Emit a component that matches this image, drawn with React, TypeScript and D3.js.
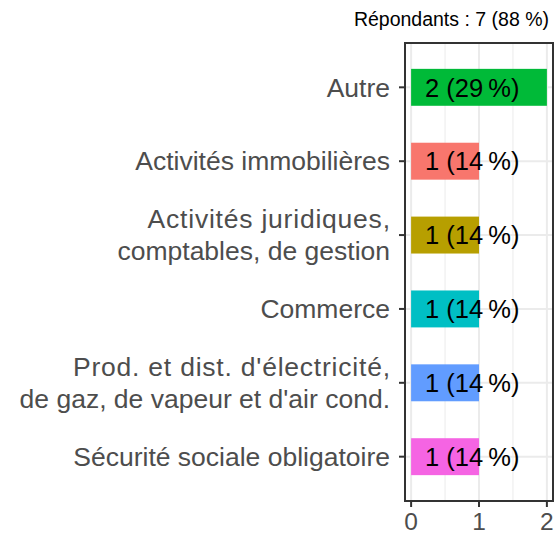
import React from "react";
import * as d3 from "d3";

const categories = [
  "Autre",
  "Activités immobilières",
  "Activités juridiques,\ncomptables, de gestion",
  "Commerce",
  "Prod. et dist. d'électricité,\nde gaz, de vapeur et d'air cond.",
  "Sécurité sociale obligatoire",
];
const counts = [2, 1, 1, 1, 1, 1];
const percents = [29, 14, 14, 14, 14, 14];
const colors = ["#00BA38", "#F8766D", "#B79F00", "#00BFC4", "#619CFF", "#F564E3"];
const xTicks = [0, 1, 2];
const xMinor = [0.5, 1.5];
const title = "Répondants : 7 (88 %)";
const labelPos = 0.9;

const W = 555;
const H = 533;
const panel = { left: 405, right: 553, top: 43, bottom: 501 };
const FONT = "Liberation Sans, Arial, sans-serif";

export default function App() {
  const x = d3.scaleLinear().domain([-0.09, 2.09]).range([panel.left, panel.right]);
  const y = d3
    .scalePoint<string>()
    .domain(categories)
    .range([panel.top, panel.bottom])
    .padding(0.6);
  const step = y.step();
  const barH = step * 0.5;
  const axisFs = 26.5;
  const textGrey = "#4D4D4D";

  return (
    <svg
      width={W}
      height={H}
      style={{ position: "absolute", left: 0, top: 0, background: "#fff" }}
      fontFamily={FONT}
    >
      <rect x={0} y={0} width={W} height={H} fill="#fff" />
      <text x={549} y={26} fontSize={19.5} textAnchor="end" fill="#000">
        {title}
      </text>
      {/* grid */}
      {xMinor.map((t) => (
        <line key={"mi" + t} x1={x(t)} x2={x(t)} y1={panel.top} y2={panel.bottom} stroke="#EBEBEB" strokeWidth={1} />
      ))}
      {xTicks.map((t) => (
        <line key={"ma" + t} x1={x(t)} x2={x(t)} y1={panel.top} y2={panel.bottom} stroke="#EBEBEB" strokeWidth={2} />
      ))}
      {categories.map((c) => (
        <line key={"h" + c} x1={panel.left} x2={panel.right} y1={y(c)!} y2={y(c)!} stroke="#EBEBEB" strokeWidth={2} />
      ))}
      {/* bars */}
      {categories.map((c, i) => (
        <rect
          key={"b" + c}
          x={x(0)}
          y={y(c)! - barH / 2}
          width={x(counts[i]) - x(0)}
          height={barH}
          fill={colors[i]}
        />
      ))}
      {categories.map((c, i) => (
        <text
          key={"l" + c}
          x={x(labelPos)}
          y={y(c)! + axisFs * 0.35}
          fontSize={25.5}
          textAnchor="middle"
          fill="#000"
        >
          {`${counts[i]} (${percents[i]}\u202F%)`}
        </text>
      ))}
      {/* panel border */}
      <rect
        x={panel.left}
        y={panel.top}
        width={panel.right - panel.left}
        height={panel.bottom - panel.top}
        fill="none"
        stroke="#333333"
        strokeWidth={2}
      />
      {/* y axis */}
      {categories.map((c) => {
        const lines = c.split("\n");
        const lh = 32;
        const cy = y(c)!;
        return (
          <g key={"y" + c}>
            <line x1={panel.left - 6} x2={panel.left} y1={cy} y2={cy} stroke="#333333" strokeWidth={2} />
            {lines.map((ln, k) => (
              <text
                key={k}
                x={lines.length > 1 && k === 0 ? 390.8 : 390}
                y={cy + axisFs * 0.35 + (k - (lines.length - 1) / 2) * lh}
                fontSize={axisFs}
                textAnchor="end"
                fill={textGrey}
                letterSpacing={lines.length > 1 && k === 0 ? 0.78 : 0}
              >
                {ln}
              </text>
            ))}
          </g>
        );
      })}
      {/* x axis */}
      {xTicks.map((t) => (
        <g key={"x" + t}>
          <line x1={x(t)} x2={x(t)} y1={panel.bottom} y2={panel.bottom + 6} stroke="#333333" strokeWidth={2} />
          <text x={x(t)} y={529.5} fontSize={24.5} textAnchor="middle" fill={textGrey}>
            {t}
          </text>
        </g>
      ))}
    </svg>
  );
}
